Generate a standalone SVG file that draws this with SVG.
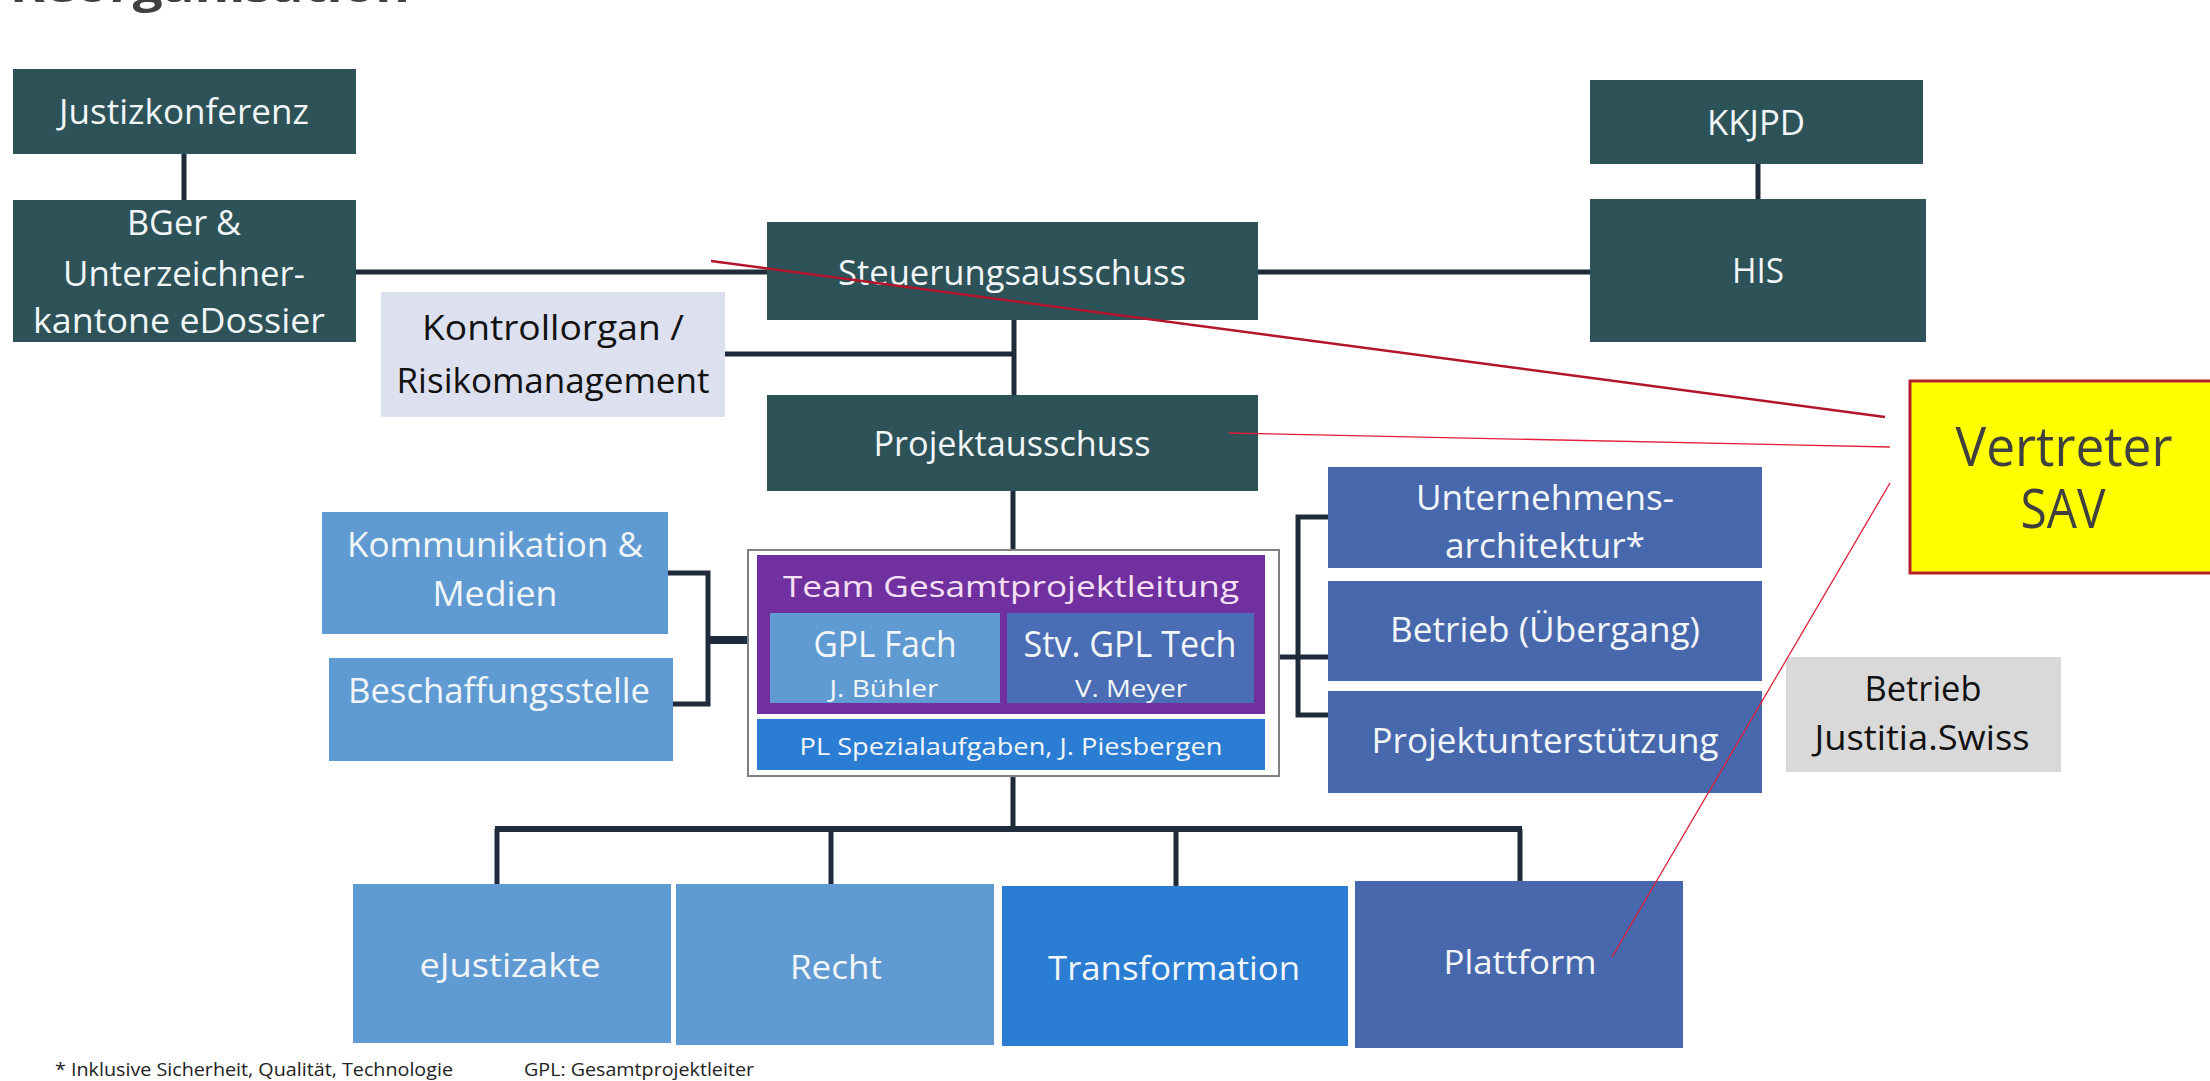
<svg xmlns="http://www.w3.org/2000/svg" width="2210" height="1081" viewBox="0 0 2210 1081">
<style>
text{font-family:"Open Sans","Noto Sans","Liberation Sans",sans-serif}
.dark{fill:#2d5257}
.lb{fill:#5f9bd2}
.mb{fill:#4868ae}
.bb{fill:#2b7dd4}
.w{fill:#f2f6f8;text-anchor:middle}
.k{fill:#111;text-anchor:middle}
.f34{font-size:34px}
.con{fill:none;stroke:#1f2a3a;stroke-width:5}
</style>
<rect width="2210" height="1081" fill="#ffffff"/>
<text x="10" y="2" font-size="44" font-weight="bold" fill="#404040" textLength="400" lengthAdjust="spacingAndGlyphs">Reorganisation</text>

<g id="connectors">
<path class="con" d="M184,154 V200"/>
<path class="con" d="M356,272 H767"/>
<path class="con" d="M1258,272 H1590"/>
<path class="con" d="M1758,164 V199"/>
<path class="con" d="M1014,320 V395"/>
<path class="con" d="M725,354 H1014"/>
<path class="con" d="M1013,491 V550"/>
<path class="con" d="M668,573 H708 V704 H673"/>
<path class="con" d="M708,640 H748" style="stroke-width:8"/>
<path class="con" d="M1328,517 H1298 V715 H1328"/>
<path class="con" d="M1279,657 H1328"/>
<path class="con" d="M1013,776 V829"/>
<path class="con" d="M495,829 H1522" style="stroke-width:6"/>
<path class="con" d="M497,829 V884"/>
<path class="con" d="M831,829 V884"/>
<path class="con" d="M1176,829 V886"/>
<path class="con" d="M1520,829 V881"/>
</g>

<g id="n-justizkonferenz">
<rect class="dark" x="13" y="69" width="343" height="85"/>
<text class="w f34" x="184" y="124" textLength="250" lengthAdjust="spacingAndGlyphs">Justizkonferenz</text>
</g>
<g id="n-bger">
<rect class="dark" x="13" y="200" width="343" height="142"/>
<text class="w f34" x="184" y="235" textLength="114" lengthAdjust="spacingAndGlyphs">BGer &amp;</text>
<text class="w f34" x="184" y="286" textLength="242" lengthAdjust="spacingAndGlyphs">Unterzeichner-</text>
<text class="w f34" x="179" y="333" textLength="292" lengthAdjust="spacingAndGlyphs">kantone eDossier</text>
</g>
<g id="n-kkjpd">
<rect class="dark" x="1590" y="80" width="333" height="84"/>
<text class="w f34" x="1756" y="135" textLength="98" lengthAdjust="spacingAndGlyphs">KKJPD</text>
</g>
<g id="n-his">
<rect class="dark" x="1590" y="199" width="336" height="143"/>
<text class="w f34" x="1758" y="283" textLength="52" lengthAdjust="spacingAndGlyphs">HIS</text>
</g>
<g id="n-steuerungsausschuss">
<rect class="dark" x="767" y="222" width="491" height="98"/>
<text class="w f34" x="1012" y="285" textLength="348" lengthAdjust="spacingAndGlyphs">Steuerungsausschuss</text>
</g>
<g id="n-kontrollorgan">
<rect x="381" y="292" width="344" height="125" fill="#dce0ef"/>
<text class="k f34" x="553" y="340" textLength="262" lengthAdjust="spacingAndGlyphs">Kontrollorgan /</text>
<text class="k f34" x="553" y="393" textLength="313" lengthAdjust="spacingAndGlyphs">Risikomanagement</text>
</g>
<g id="n-projektausschuss">
<rect class="dark" x="767" y="395" width="491" height="96"/>
<text class="w f34" x="1012" y="456" textLength="277" lengthAdjust="spacingAndGlyphs">Projektausschuss</text>
</g>
<g id="n-kommunikation">
<rect class="lb" x="322" y="512" width="346" height="122"/>
<text class="w f34" x="495" y="557" textLength="296" lengthAdjust="spacingAndGlyphs">Kommunikation &amp;</text>
<text class="w f34" x="495" y="606" textLength="125" lengthAdjust="spacingAndGlyphs">Medien</text>
</g>
<g id="n-beschaffungsstelle">
<rect class="lb" x="329" y="658" width="344" height="103"/>
<text class="w f34" x="499" y="703" textLength="302" lengthAdjust="spacingAndGlyphs">Beschaffungsstelle</text>
</g>
<g id="n-team-gesamtprojektleitung">
<rect x="748" y="550" width="531" height="226" fill="#ffffff" stroke="#808080" stroke-width="2"/>
<rect x="757" y="555" width="508" height="159" fill="#7030a0"/>
<text x="1011" y="597" font-size="29" fill="#f6e0f3" text-anchor="middle" textLength="456" lengthAdjust="spacingAndGlyphs">Team Gesamtprojektleitung</text>
<rect class="lb" x="770" y="613" width="230" height="90"/>
<text class="w" x="885" y="657" font-size="37" textLength="143" lengthAdjust="spacingAndGlyphs">GPL Fach</text>
<text class="w" x="884" y="697" font-size="23" textLength="109" lengthAdjust="spacingAndGlyphs">J. Bühler</text>
<rect x="1007" y="613" width="247" height="90" fill="#4a6db5"/>
<text class="w" x="1130" y="657" font-size="37" textLength="213" lengthAdjust="spacingAndGlyphs">Stv. GPL Tech</text>
<text class="w" x="1131" y="697" font-size="23" textLength="112" lengthAdjust="spacingAndGlyphs">V. Meyer</text>
<rect class="bb" x="757" y="719" width="508" height="51"/>
<text class="w" x="1011" y="755" font-size="24" textLength="423" lengthAdjust="spacingAndGlyphs">PL Spezialaufgaben, J. Piesbergen</text>
</g>
<g id="n-unternehmensarchitektur">
<rect class="mb" x="1328" y="467" width="434" height="101"/>
<text class="w f34" x="1545" y="510" textLength="258" lengthAdjust="spacingAndGlyphs">Unternehmens-</text>
<text class="w f34" x="1545" y="558" textLength="200" lengthAdjust="spacingAndGlyphs">architektur*</text>
</g>
<g id="n-betrieb-uebergang">
<rect class="mb" x="1328" y="581" width="434" height="100"/>
<text class="w f34" x="1545" y="642" textLength="310" lengthAdjust="spacingAndGlyphs">Betrieb (Übergang)</text>
</g>
<g id="n-projektunterstuetzung">
<rect class="mb" x="1328" y="691" width="434" height="102"/>
<text class="w f34" x="1545" y="753" textLength="347" lengthAdjust="spacingAndGlyphs">Projektunterstützung</text>
</g>
<g id="n-betrieb-justitia">
<rect x="1786" y="657" width="275" height="115" fill="#d9d9d9"/>
<text class="k f34" x="1923" y="701" textLength="117" lengthAdjust="spacingAndGlyphs">Betrieb</text>
<text class="k f34" x="1922" y="750" textLength="215" lengthAdjust="spacingAndGlyphs">Justitia.Swiss</text>
</g>
<g id="n-ejustizakte">
<rect class="lb" x="353" y="884" width="318" height="159"/>
<text class="w" x="510" y="977" font-size="32" textLength="181" lengthAdjust="spacingAndGlyphs">eJustizakte</text>
</g>
<g id="n-recht">
<rect class="lb" x="676" y="884" width="318" height="161"/>
<text class="w" x="836" y="979" font-size="32" textLength="92" lengthAdjust="spacingAndGlyphs">Recht</text>
</g>
<g id="n-transformation">
<rect class="bb" x="1002" y="886" width="346" height="160"/>
<text class="w" x="1174" y="980" font-size="32" textLength="252" lengthAdjust="spacingAndGlyphs">Transformation</text>
</g>
<g id="n-plattform">
<rect class="mb" x="1355" y="881" width="328" height="167"/>
<text class="w" x="1520" y="974" font-size="32" textLength="153" lengthAdjust="spacingAndGlyphs">Plattform</text>
</g>

<g id="sav-lines">
<path d="M711,261 L1885,417" stroke="#b2142a" stroke-width="2.5" fill="none"/>
<path d="M1229,433 L1890,447" stroke="#e01f3a" stroke-width="1.3" fill="none"/>
<path d="M1890,483 L1612,957" stroke="#e01f3a" stroke-width="1.3" fill="none"/>
</g>
<g id="n-vertreter-sav">
<rect x="1910" y="381" width="310" height="192" fill="#ffff00" stroke="#b5202e" stroke-width="3"/>
<text x="2064" y="466" font-size="54" fill="#404040" text-anchor="middle" textLength="217" lengthAdjust="spacingAndGlyphs">Vertreter</text>
<text x="2063" y="528" font-size="54" fill="#404040" text-anchor="middle" textLength="85" lengthAdjust="spacingAndGlyphs">SAV</text>
</g>

<g id="footnotes">
<text x="55" y="1076" font-size="18" fill="#222" textLength="398" lengthAdjust="spacingAndGlyphs">* Inklusive Sicherheit, Qualität, Technologie</text>
<text x="524" y="1076" font-size="18" fill="#222" textLength="230" lengthAdjust="spacingAndGlyphs">GPL:  Gesamtprojektleiter</text>
</g>
</svg>
